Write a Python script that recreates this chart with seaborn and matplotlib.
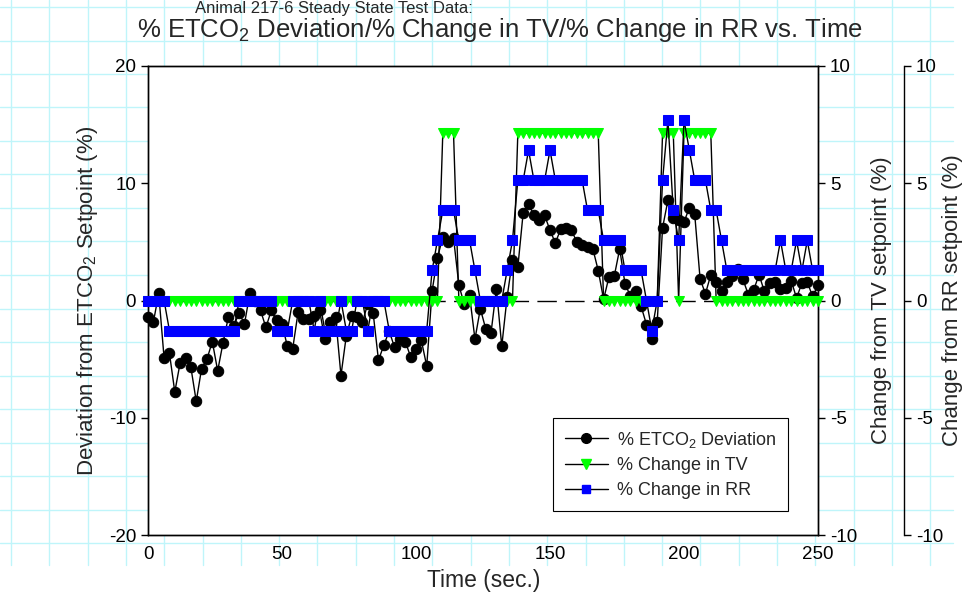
import numpy as np
import matplotlib
matplotlib.use("Agg")
import matplotlib.pyplot as plt
from matplotlib.lines import Line2D
import seaborn as sns

sns.set_style("white")
plt.rcParams["font.family"] = ["Liberation Sans", "DejaVu Sans"]
plt.rcParams["mathtext.fontset"] = "custom"
plt.rcParams["mathtext.rm"] = "Liberation Sans"
plt.rcParams["axes.unicode_minus"] = False

# sampled every 2 s, 0..250 s
time_s = np.arange(0, 251, 2)

# % ETCO2 deviation from setpoint (left axis)
etco2_dev = [
    -1.4, -1.85, 0.6, -4.9, -4.5, -7.8, -5.3, -4.9, -5.7, -8.6,
    -5.8, -5.0, -3.5, -6.0, -3.6, -1.4, -2.2, -1.05, -2.0, 0.6,
    0.0, -0.85, -2.3, -0.85, -1.65, -2.0, -3.9, -4.1, -1.0, -1.6,
    -1.6, -1.3, -0.85, -3.3, -1.8, -1.4, -6.4, -3.0, -1.3, -1.4,
    -1.85, -0.3, -1.05, -5.1, -3.8, -2.6, -4.0, -3.3, -3.5, -4.8,
    -4.1, -3.4, -5.6, 0.8, 3.65, 5.4, 5.0, 5.35, 1.3, -0.3,
    0.43, -3.3, -0.7, -2.4, -2.75, 1.0, -3.9, 0.3, 3.45, 2.85,
    7.5, 8.25, 7.25, 6.9, 7.25, 6.0, 4.9, 6.1, 6.2, 6.0,
    5.0, 4.7, 4.6, 4.4, 2.55, 0.1, 2.0, 2.1, 4.4, 1.4,
    0.4, 0.8, -0.5, -2.05, -3.3, -1.85, 6.2, 8.55, 7.0, 6.85,
    6.7, 7.9, 7.35, 1.85, 0.57, 2.2, 1.6, 0.8, 1.57, 2.1,
    2.7, 1.8, 0.5, 0.9, 2.2, 0.77, 1.5, 1.6, 1.0, 1.05,
    1.7, 0.2, 1.5, 1.57, 0.35, 1.3,
]

# % change in tidal volume (right axis)
tv_change = (
    [0] * 55 + [7.14] * 3 + [0] * 11 + [7.14] * 16 + [0] * 11
    + [7.14] * 3 + [0] + [7.14] * 6 + [0] * 20
)

# % change in respiratory rate (second right axis)
rr_change = [
    0, 0, 0, 0, -1.28, -1.28, -1.28, -1.28, -1.28, -1.28,
    -1.28, -1.28, -1.28, -1.28, -1.28, -1.28, -1.28, 0, 0, 0,
    0, 0, 0, 0, -1.28, -1.28, -1.28, 0, 0, 0,
    0, -1.28, 0, -1.28, -1.28, -1.28, 0, -1.28, -1.28, 0,
    0, -1.28, 0, 0, 0, -1.28, -1.28, -1.28, -1.28, -1.28,
    -1.28, -1.28, -1.28, 1.28, 2.56, 3.85, 3.85, 3.85, 2.56, 2.56,
    2.56, 1.28, 0, 0, 0, 0, 0, 1.28, 2.56, 5.13,
    5.13, 6.41, 5.13, 5.13, 5.13, 6.41, 5.13, 5.13, 5.13, 5.13,
    5.13, 5.13, 3.85, 3.85, 3.85, 2.56, 2.56, 2.56, 2.56, 1.28,
    1.28, 1.28, 1.28, 0, -1.28, 0, 5.13, 7.69, 3.85, 2.56,
    7.69, 6.41, 5.13, 5.13, 5.13, 3.85, 3.85, 2.56, 1.28, 1.28,
    1.28, 1.28, 1.28, 1.28, 1.28, 1.28, 1.28, 1.28, 2.56, 1.28,
    1.28, 2.56, 1.28, 2.56, 1.28, 1.28,
]

W, H = 964, 599
fig = plt.figure(figsize=(W / 100, H / 100), dpi=100)
fig.patch.set_facecolor("white")

# page grid behind the graph
grid_c = "#bff5fa"
for gy in np.arange(7, 566, 33.5):
    fig.add_artist(Line2D([0, 953 / W], [1 - gy / H] * 2, color=grid_c, lw=1, zorder=0))
for gx in np.arange(853.6 - 38.3 * 22, 954, 38.3):
    fig.add_artist(Line2D([gx / W] * 2, [1 - 565 / H, 1], color=grid_c, lw=1, zorder=0))

ax = fig.add_axes([148 / W, 1 - 535 / H, 670 / W, 469 / H])
ax.set_facecolor("white")
ax2 = ax.twinx()
ax3 = ax.twinx()
ax3.spines["right"].set_position(("axes", 1 + 86 / 670))
for s in ["left", "top", "bottom"]:
    ax3.spines[s].set_visible(False)
for a in (ax, ax2, ax3):
    for s in a.spines.values():
        s.set_linewidth(1.0)
        s.set_color("black")

ax.axhline(0, color="black", lw=1, dashes=(14, 6), zorder=1)

sns.lineplot(x=time_s, y=etco2_dev, ax=ax, color="black", lw=1, marker="o",
             markersize=7.5, markerfacecolor="black", markeredgecolor="black",
             clip_on=False, zorder=3, legend=False)
sns.lineplot(x=time_s, y=tv_change, ax=ax2, color="black", lw=1, marker="v",
             markersize=7, markerfacecolor="#00ff00", markeredgecolor="#00ff00",
             clip_on=False, zorder=3, legend=False)
sns.lineplot(x=time_s, y=rr_change, ax=ax3, color="black", lw=1, marker="s",
             markersize=6.5, markerfacecolor="#0000ff", markeredgecolor="#0000ff",
             clip_on=False, zorder=3, legend=False)

ax.set_xlim(0, 250)
ax.set_ylim(-20, 20)
ax2.set_ylim(-10, 10)
ax3.set_ylim(-10, 10)
ax.set_xticks([0, 50, 100, 150, 200, 250])
ax.set_yticks([-20, -10, 0, 10, 20])
ax2.set_yticks([-10, -5, 0, 5, 10])
ax3.set_yticks([-10, -5, 0, 5, 10])

for a in (ax, ax2, ax3):
    a.tick_params(direction="out", length=5, width=1, labelsize=13.5, colors="black")
ax.tick_params(axis="x", pad=3)
ax.tick_params(axis="y", left=True)
ax2.tick_params(axis="y", right=True)
ax3.tick_params(axis="y", right=True)

ax.set_xlabel("Time (sec.)", fontsize=16.5)
ax.xaxis.set_label_coords((484 - 148) / 670, -0.072)
ax.set_ylabel(r"Deviation from ETCO$\mathregular{_2}$ Setpoint (%)", fontsize=16)
ax.yaxis.set_label_coords((100 - 148) / 670, 0.5)
ax2.set_ylabel("Change from TV setpoint (%)", fontsize=16)
ax2.yaxis.set_label_coords((871 - 148) / 670, 0.5)
ax3.set_ylabel("Change from RR setpoint (%)", fontsize=16)
ax3.yaxis.set_label_coords((942 - 148) / 670, 0.5)

fig.text(195 / W, 1 - 13 / H, "Animal 217-6 Steady State Test Data:", fontsize=12,
         ha="left", va="baseline")
fig.text(500 / W, 1 - 36.5 / H,
         r"% ETCO$\mathregular{_2}$ Deviation/% Change in TV/% Change in RR vs. Time",
         fontsize=18.5, ha="center", va="baseline")

handles = [
    Line2D([], [], color="black", lw=1, marker="o", markersize=7,
           markerfacecolor="black", markeredgecolor="black"),
    Line2D([], [], color="black", lw=1, marker="v", markersize=7,
           markerfacecolor="#00ff00", markeredgecolor="#00ff00"),
    Line2D([], [], color="black", lw=1, marker="s", markersize=6,
           markerfacecolor="#0000ff", markeredgecolor="#0000ff"),
]
labels = [r"% ETCO$\mathregular{_2}$ Deviation", "% Change in TV", "% Change in RR"]
leg = ax3.legend(handles, labels, loc="upper left",
                 bbox_to_anchor=(553 / W, 1 - 418 / H), bbox_transform=fig.transFigure,
                 borderaxespad=0, fontsize=13, frameon=True, fancybox=False,
                 framealpha=1, edgecolor="black", handlelength=2.4,
                 handletextpad=0.5, labelspacing=0.42, borderpad=0.65)
leg.get_frame().set_linewidth(0.8)

fig.savefig("out.png", dpi=100)
